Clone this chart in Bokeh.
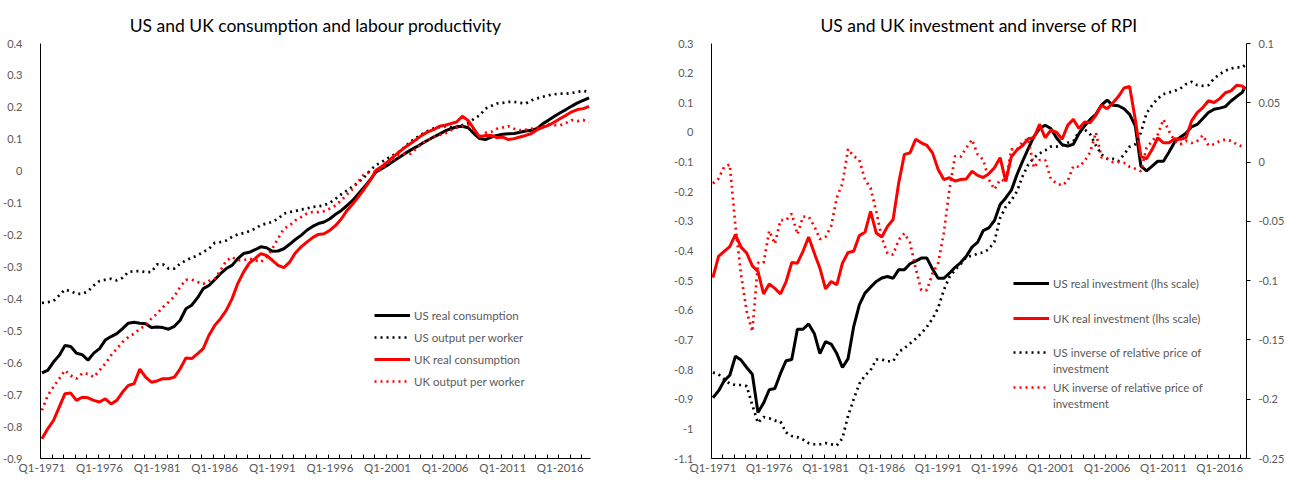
from bokeh.plotting import figure
from bokeh.layouts import row
from bokeh.models import (Range1d, LinearAxis, FixedTicker, Legend, LegendItem,
                          CustomJSTickFormatter)
from bokeh.embed import file_html
from bokeh.resources import INLINE

FONT = "Lato"
GRAY = "#595959"

# ---------------- data ----------------
x_tick_labels = ["Q1-1971", "Q1-1976", "Q1-1981", "Q1-1986", "Q1-1991",
                 "Q1-1996", "Q1-2001", "Q1-2006", "Q1-2011", "Q1-2016"]

# left chart: half-yearly (Q1, Q3) readings
left_dates = [f"Q{q}-{y}" for y in range(1971, 2019) for q in (1, 3)]

us_consumption = [
    -0.632, -0.624, -0.598, -0.577, -0.546, -0.549, -0.570, -0.575, -0.592, -0.570,
    -0.556, -0.529, -0.518, -0.509, -0.493, -0.476, -0.473, -0.476, -0.478, -0.490,
    -0.488, -0.490, -0.495, -0.486, -0.467, -0.431, -0.420, -0.397, -0.368, -0.358,
    -0.340, -0.321, -0.305, -0.295, -0.274, -0.258, -0.254, -0.246, -0.237, -0.240,
    -0.251, -0.250, -0.243, -0.229, -0.214, -0.201, -0.185, -0.173, -0.164, -0.159,
    -0.149, -0.135, -0.123, -0.107, -0.091, -0.070, -0.049, -0.027, -0.002, 0.008,
    0.019, 0.031, 0.043, 0.055, 0.066, 0.076, 0.087, 0.097, 0.107, 0.116,
    0.126, 0.133, 0.139, 0.141, 0.136, 0.118, 0.102, 0.099, 0.107, 0.112,
    0.116, 0.117, 0.118, 0.122, 0.126, 0.128, 0.134, 0.149, 0.160, 0.172,
    0.183, 0.193, 0.204, 0.214, 0.222, 0.230]
us_output_per_worker = [
    -0.413, -0.410, -0.407, -0.389, -0.371, -0.376, -0.384, -0.384, -0.376, -0.358,
    -0.344, -0.340, -0.337, -0.342, -0.334, -0.316, -0.313, -0.313, -0.316, -0.316,
    -0.292, -0.292, -0.305, -0.305, -0.290, -0.279, -0.271, -0.264, -0.253, -0.243,
    -0.225, -0.222, -0.217, -0.206, -0.198, -0.194, -0.188, -0.180, -0.169, -0.164,
    -0.159, -0.149, -0.133, -0.128, -0.125, -0.120, -0.117, -0.112, -0.110, -0.107,
    -0.099, -0.086, -0.072, -0.060, -0.047, -0.034, -0.018, 0.003, 0.019, 0.029,
    0.040, 0.050, 0.060, 0.076, 0.092, 0.105, 0.116, 0.126, 0.134, 0.138,
    0.141, 0.138, 0.137, 0.144, 0.151, 0.164, 0.175, 0.196, 0.204, 0.212,
    0.214, 0.217, 0.217, 0.214, 0.212, 0.222, 0.228, 0.233, 0.238, 0.241,
    0.243, 0.243, 0.245, 0.248, 0.252, 0.248]
uk_consumption = [
    -0.838, -0.807, -0.781, -0.739, -0.697, -0.695, -0.718, -0.708, -0.710, -0.718,
    -0.723, -0.713, -0.729, -0.718, -0.692, -0.671, -0.666, -0.620, -0.645, -0.661,
    -0.657, -0.650, -0.650, -0.645, -0.619, -0.585, -0.587, -0.572, -0.556, -0.514,
    -0.483, -0.462, -0.436, -0.400, -0.352, -0.316, -0.288, -0.274, -0.258, -0.264,
    -0.279, -0.295, -0.302, -0.285, -0.256, -0.237, -0.222, -0.208, -0.198, -0.196,
    -0.185, -0.170, -0.149, -0.122, -0.102, -0.079, -0.055, -0.029, 0.003, 0.015,
    0.029, 0.045, 0.060, 0.074, 0.087, 0.099, 0.113, 0.123, 0.130, 0.141,
    0.144, 0.149, 0.154, 0.172, 0.159, 0.133, 0.107, 0.112, 0.112, 0.105,
    0.107, 0.099, 0.102, 0.107, 0.112, 0.118, 0.130, 0.137, 0.144, 0.154,
    0.165, 0.175, 0.186, 0.193, 0.196, 0.203]
uk_output_per_worker = [
    -0.749, -0.703, -0.676, -0.650, -0.624, -0.640, -0.650, -0.633, -0.635, -0.645,
    -0.624, -0.603, -0.577, -0.556, -0.535, -0.520, -0.509, -0.494, -0.483, -0.462,
    -0.446, -0.426, -0.410, -0.392, -0.363, -0.340, -0.340, -0.347, -0.353, -0.344,
    -0.337, -0.311, -0.281, -0.269, -0.279, -0.279, -0.274, -0.279, -0.285, -0.269,
    -0.243, -0.211, -0.180, -0.170, -0.154, -0.144, -0.133, -0.128, -0.128, -0.125,
    -0.117, -0.107, -0.091, -0.072, -0.055, -0.031, -0.008, -0.003, -0.003, 0.008,
    0.024, 0.036, 0.050, 0.055, 0.055, 0.071, 0.087, 0.097, 0.107, 0.113,
    0.118, 0.128, 0.137, 0.141, 0.144, 0.130, 0.107, 0.120, 0.123, 0.133,
    0.137, 0.141, 0.133, 0.128, 0.130, 0.133, 0.137, 0.141, 0.147, 0.144,
    0.144, 0.151, 0.160, 0.157, 0.160, 0.154]

# right chart: half-yearly (Q1, Q3) readings
right_dates = [f"Q{q}-{y}" for y in range(1971, 2018) for q in (1, 3)] + ["Q1-2018", "Q2-2018"]

us_investment = [
    -0.895, -0.872, -0.838, -0.819, -0.755, -0.768, -0.793, -0.816, -0.945, -0.913,
    -0.868, -0.864, -0.813, -0.770, -0.766, -0.664, -0.664, -0.646, -0.678, -0.746,
    -0.706, -0.714, -0.746, -0.793, -0.763, -0.655, -0.582, -0.542, -0.522, -0.503,
    -0.491, -0.486, -0.492, -0.463, -0.463, -0.443, -0.434, -0.424, -0.424, -0.461,
    -0.492, -0.492, -0.475, -0.455, -0.439, -0.418, -0.387, -0.371, -0.331, -0.322,
    -0.297, -0.243, -0.221, -0.195, -0.142, -0.097, -0.055, -0.014, 0.013, 0.024,
    0.013, -0.018, -0.041, -0.046, -0.040, -0.004, 0.022, 0.044, 0.061, 0.092,
    0.109, 0.092, 0.090, 0.080, 0.061, 0.022, -0.114, -0.130, -0.114, -0.097,
    -0.097, -0.066, -0.032, -0.016, -0.003, 0.019, 0.027, 0.047, 0.067, 0.078,
    0.082, 0.087, 0.106, 0.121, 0.135, 0.155]
uk_investment = [
    -0.490, -0.418, -0.401, -0.385, -0.345, -0.387, -0.407, -0.450, -0.469, -0.545,
    -0.511, -0.526, -0.545, -0.503, -0.439, -0.441, -0.401, -0.353, -0.407, -0.458,
    -0.528, -0.503, -0.514, -0.441, -0.405, -0.401, -0.348, -0.337, -0.266, -0.339,
    -0.353, -0.317, -0.294, -0.170, -0.074, -0.069, -0.023, -0.035, -0.044, -0.069,
    -0.125, -0.159, -0.153, -0.164, -0.159, -0.157, -0.131, -0.145, -0.152, -0.139,
    -0.119, -0.085, -0.165, -0.082, -0.059, -0.044, -0.021, -0.018, 0.027, -0.018,
    0.008, 0.001, -0.023, 0.024, 0.044, 0.013, 0.035, 0.033, 0.058, 0.092,
    0.080, 0.099, 0.121, 0.150, 0.155, 0.044, -0.080, -0.089, -0.057, -0.018,
    -0.035, -0.035, -0.021, -0.023, -0.018, 0.039, 0.067, 0.084, 0.107, 0.101,
    0.114, 0.134, 0.140, 0.159, 0.157, 0.146]
us_inverse_rpi = [
    -0.1775, -0.179, -0.183, -0.187, -0.188, -0.188, -0.189, -0.205, -0.220, -0.215,
    -0.216, -0.218, -0.219, -0.228, -0.231, -0.232, -0.234, -0.237, -0.238, -0.238,
    -0.237, -0.238, -0.239, -0.233, -0.214, -0.200, -0.187, -0.180, -0.1755, -0.1665,
    -0.1665, -0.168, -0.168, -0.160, -0.157, -0.153, -0.149, -0.1445, -0.139, -0.132,
    -0.123, -0.108, -0.097, -0.091, -0.086, -0.080, -0.079, -0.0773, -0.0762, -0.0735,
    -0.0669, -0.0471, -0.0378, -0.0322, -0.0246, -0.0119, -0.002, 0.0036, 0.0073, 0.0098,
    0.013, 0.013, 0.014, 0.0163, 0.0177, 0.0254, 0.0276, 0.0234, 0.014, 0.0065,
    0.0028, 0.0028, 0.0008, 0.0065, 0.013, 0.015, 0.0248, 0.0412, 0.048, 0.0536,
    0.0573, 0.0587, 0.060, 0.062, 0.0657, 0.0677, 0.0649, 0.0643, 0.0649, 0.0705,
    0.0742, 0.077, 0.079, 0.0798, 0.0798, 0.0818]
uk_inverse_rpi = [
    -0.018, -0.014, -0.004, -0.002, -0.054, -0.095, -0.126, -0.143, -0.085, -0.085,
    -0.058, -0.069, -0.049, -0.049, -0.0435, -0.061, -0.046, -0.046, -0.054, -0.065,
    -0.063, -0.054, -0.030, -0.018, 0.011, 0.005, 0.0017, -0.0147, -0.022, -0.0415,
    -0.064, -0.077, -0.078, -0.0655, -0.060, -0.068, -0.0895, -0.108, -0.108, -0.094,
    -0.085, -0.060, -0.023, 0.005, 0.0045, 0.012, 0.019, 0.0065, 0.002, -0.0147,
    -0.023, -0.0147, -0.016, 0.0107, 0.0107, 0.017, 0.0197, -0.0048, 0.0017, 0.0017,
    -0.0141, -0.018, -0.0198, -0.016, -0.0034, -0.004, 0.0008, 0.0084, 0.025, 0.004,
    0.0028, 0.0, 0.0, -0.0006, -0.004, -0.0057, -0.0077, 0.012, 0.0178, 0.0234,
    0.036, 0.026, 0.0178, 0.015, 0.0178, 0.016, 0.0178, 0.0226, 0.014, 0.015,
    0.0178, 0.019, 0.0178, 0.015, 0.013, 0.012]

left_yticks = [round(-0.9 + 0.1 * k, 2) for k in range(14)]
right_yticks = [round(-1.1 + 0.1 * k, 2) for k in range(15)]
rhs_yticks = [round(-0.25 + 0.05 * k, 2) for k in range(8)]


def qidx(s):
    q, y = s.split("-")
    return (int(y) - 1971) * 4 + int(q[1:]) - 1


def fmt():
    return CustomJSTickFormatter(code="return String(Math.round(tick*100)/100);")


def base_fig(title, x_end, y_rng, border_left, border_right, frame_w):
    p = figure(frame_width=frame_w, frame_height=415,
               x_range=Range1d(-0.5, x_end), y_range=Range1d(*y_rng),
               output_backend="svg", toolbar_location=None,
               min_border_left=border_left, min_border_right=border_right,
               min_border_top=43, min_border_bottom=22)
    p.title.text = title
    p.title.align = "center"
    p.title.text_font = FONT
    p.title.text_font_size = "17.5px"
    p.title.text_font_style = "normal"
    p.title.text_color = "#000000"
    p.title.standoff = 16
    p.outline_line_color = None
    p.grid.visible = False
    p.background_fill_color = "white"

    xa = p.xaxis[0]
    major = [20 * k for k in range(len(x_tick_labels))]
    xa.ticker = FixedTicker(ticks=major, minor_ticks=[-0.5 + 4 * k for k in range(49)])
    xa.major_label_overrides = {m: lab for m, lab in zip(major, x_tick_labels)}
    xa.major_tick_in = 0
    xa.major_tick_out = 0
    xa.minor_tick_in = 4
    xa.minor_tick_out = 0
    xa.minor_tick_line_color = "#000000"
    xa.axis_line_color = "#000000"
    xa.major_label_text_font = FONT
    xa.major_label_text_font_size = "11.5px"
    xa.major_label_text_color = GRAY
    xa.major_label_standoff = 2

    ya = p.yaxis[0]
    ya.formatter = fmt()
    ya.major_tick_line_color = None
    ya.minor_tick_line_color = None
    ya.axis_line_color = "#000000"
    ya.major_label_text_font = FONT
    ya.major_label_text_font_size = "11px"
    ya.major_label_text_color = GRAY
    ya.major_label_standoff = 12
    return p


def add_legend(p, entries, x, y, h):
    items = [LegendItem(label=lab, renderers=[r]) for lab, r in entries]
    lg = Legend(items=items, location=(x, y), orientation="vertical",
                glyph_width=36, glyph_height=h, label_height=h, label_standoff=4,
                padding=0, margin=0, spacing=0, border_line_color=None,
                background_fill_alpha=0, label_text_font=FONT,
                label_text_font_size="11.5px", label_text_color=GRAY)
    p.add_layout(lg)


DOT = "2 4"

# ---------------- left chart ----------------
lx = [qidx(d) for d in left_dates]
p1 = base_fig("US and UK consumption and labour productivity", 190.5, (-0.9, 0.4), 40, 58, 550)
p1.yaxis[0].ticker = FixedTicker(ticks=left_yticks)

r1 = p1.line(lx, us_consumption, line_color="#000000", line_width=3)
r2 = p1.line(lx, us_output_per_worker, line_color="#000000", line_width=2.7, line_dash=DOT)
r3 = p1.line(lx, uk_consumption, line_color="#ff0000", line_width=3)
r4 = p1.line(lx, uk_output_per_worker, line_color="#ff0000", line_width=2.7, line_dash=DOT)

add_legend(p1, [("US real consumption", r1), ("US output per worker", r2),
                ("UK real consumption", r3), ("UK output per worker", r4)], 334, 66, 22)

# ---------------- right chart ----------------
rx = [qidx(d) for d in right_dates]
p2 = base_fig("US and UK investment and inverse of RPI", 189.5, (-1.1, 0.3), 63, 40, 535)
p2.yaxis[0].ticker = FixedTicker(ticks=right_yticks)
p2.extra_y_ranges = {"rhs": Range1d(-0.25, 0.1)}
ra = LinearAxis(y_range_name="rhs", ticker=FixedTicker(ticks=rhs_yticks), formatter=fmt())
ra.major_tick_in = 0
ra.major_tick_out = 4
ra.major_tick_line_color = "#000000"
ra.minor_tick_line_color = None
ra.axis_line_color = "#000000"
ra.major_label_text_font = FONT
ra.major_label_text_font_size = "11px"
ra.major_label_text_color = GRAY
ra.major_label_standoff = 8
p2.add_layout(ra, "right")

s1 = p2.line(rx, us_investment, line_color="#000000", line_width=3)
s2 = p2.line(rx, uk_investment, line_color="#ff0000", line_width=3)
s3 = p2.line(rx, us_inverse_rpi, line_color="#000000", line_width=2.7, line_dash=DOT,
             y_range_name="rhs")
s4 = p2.line(rx, uk_inverse_rpi, line_color="#ff0000", line_width=2.7, line_dash=DOT,
             y_range_name="rhs")
blank = p2.line([], [], line_alpha=0)

add_legend(p2, [("US real investment (lhs scale)", s1)], 302, 167, 16)
add_legend(p2, [("UK real investment (lhs scale)", s2)], 302, 132, 16)
add_legend(p2, [("US inverse of relative price of", s3), ("investment", blank)], 302, 82, 16)
add_legend(p2, [("UK inverse of relative price of", s4), ("investment", blank)], 302, 47, 16)

layout = row(p1, p2)
open("out.html", "w").write(file_html(layout, INLINE))
